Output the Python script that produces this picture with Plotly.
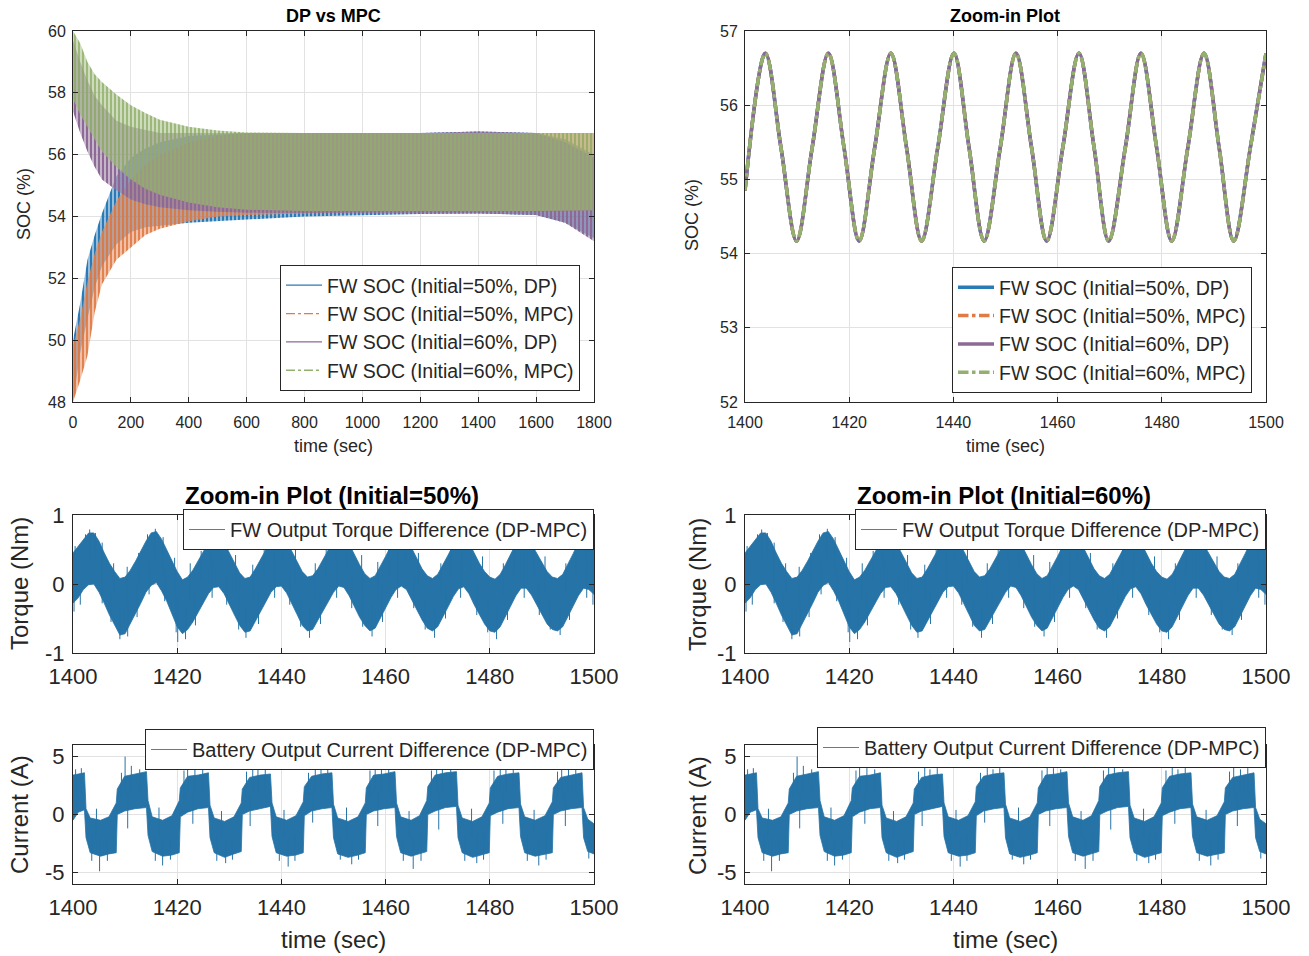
import numpy as np
import plotly.graph_objects as go

# ---------------- DATA ----------------
# Top-left: envelopes (upper/lower) of the dense SOC oscillation, 0-1800 s
env_t = [0, 25, 50, 75, 100, 150, 200, 250, 300, 400, 500, 600, 800, 1000, 1200, 1400, 1600, 1700, 1800]
soc50_dp_up = [50.0, 51.2, 52.6, 53.4, 54.1, 55.3, 55.9, 56.2, 56.4, 56.6, 56.65, 56.7, 56.7, 56.7, 56.7, 56.75, 56.7, 56.5, 56.0]
soc50_dp_lo = [48.0, 49.6, 50.7, 51.7, 52.4, 53.1, 53.5, 53.65, 53.7, 53.8, 53.85, 53.9, 54.0, 54.05, 54.08, 54.1, 54.05, 53.8, 53.3]
soc50_mpc_up = [49.8, 50.7, 51.9, 52.8, 53.5, 54.5, 55.2, 55.7, 56.0, 56.4, 56.6, 56.7, 56.7, 56.7, 56.7, 56.7, 56.7, 56.7, 56.7]
soc50_mpc_lo = [48.0, 48.7, 49.5, 50.9, 51.8, 52.6, 53.0, 53.4, 53.6, 53.85, 54.0, 54.05, 54.1, 54.15, 54.15, 54.15, 54.15, 54.15, 54.2]
soc60_dp_up = [59.7, 59.0, 58.4, 57.9, 57.6, 57.1, 56.9, 56.8, 56.7, 56.7, 56.7, 56.7, 56.7, 56.7, 56.7, 56.75, 56.7, 56.4, 55.9]
soc60_dp_lo = [57.4, 56.7, 56.1, 55.6, 55.2, 54.85, 54.55, 54.4, 54.3, 54.2, 54.15, 54.12, 54.1, 54.1, 54.1, 54.1, 54.05, 53.8, 53.2]
soc60_mpc_up = [60.0, 59.6, 59.0, 58.6, 58.35, 57.95, 57.6, 57.35, 57.13, 56.9, 56.78, 56.72, 56.7, 56.7, 56.7, 56.7, 56.7, 56.7, 56.7]
soc60_mpc_lo = [57.8, 57.3, 56.9, 56.5, 56.1, 55.6, 55.2, 54.9, 54.7, 54.45, 54.3, 54.22, 54.18, 54.18, 54.18, 54.18, 54.18, 54.18, 54.2]

# Top-right: zoomed SOC (all four series coincide in the reference)
soc_zoom_t = [1400.0, 1403.9, 1406.9, 1409.9, 1412.9, 1416.0, 1419.0, 1421.9, 1424.9, 1428.0, 1431.0,
              1433.9, 1437.0, 1440.1, 1443.0, 1445.9, 1449.0, 1452.0, 1455.0, 1457.9, 1461.0, 1464.1,
              1467.0, 1469.8, 1473.0, 1476.0, 1479.0, 1481.9, 1485.0, 1488.1, 1491.0, 1493.8, 1497.0, 1500.0]
soc_zoom_v = [54.85, 56.7, 55.43, 54.17, 55.43, 56.7, 55.43, 54.17, 55.43, 56.7, 55.43,
              54.17, 55.43, 56.7, 55.43, 54.17, 55.43, 56.7, 55.43, 54.17, 55.43, 56.7,
              55.43, 54.17, 55.43, 56.7, 55.43, 54.17, 55.43, 56.7, 55.43, 54.17, 55.43, 56.7]

# Middle: torque difference band, upper/lower envelope every second (1400..1500)
tq_t = list(range(1400, 1501))
tq_up = [0.45, 0.55, 0.65, 0.74, 0.74, 0.62, 0.45, 0.3, 0.18, 0.08,
         0.1, 0.2, 0.33, 0.48, 0.62, 0.74, 0.76, 0.65, 0.5, 0.33,
         0.18, 0.06, 0.1, 0.2, 0.34, 0.48, 0.6, 0.7, 0.7, 0.6,
         0.45, 0.3, 0.16, 0.08, 0.1, 0.22, 0.35, 0.5, 0.63, 0.72,
         0.72, 0.62, 0.48, 0.32, 0.18, 0.1, 0.12, 0.22, 0.36, 0.5,
         0.63, 0.72, 0.7, 0.58, 0.42, 0.28, 0.15, 0.08, 0.12, 0.25,
         0.4, 0.55, 0.67, 0.72, 0.66, 0.52, 0.36, 0.22, 0.12, 0.08,
         0.14, 0.27, 0.42, 0.57, 0.68, 0.7, 0.6, 0.45, 0.3, 0.18,
         0.1, 0.07, 0.14, 0.28, 0.43, 0.58, 0.68, 0.68, 0.58, 0.44,
         0.3, 0.18, 0.1, 0.08, 0.14, 0.28, 0.44, 0.6, 0.7, 0.68, 0.6]
tq_lo = [-0.28, -0.2, -0.08, -0.01, 0.0, -0.12, -0.28, -0.45, -0.6, -0.74,
         -0.72, -0.58, -0.42, -0.28, -0.12, -0.02, 0.02, -0.1, -0.25, -0.42,
         -0.62, -0.72, -0.66, -0.55, -0.42, -0.28, -0.14, -0.05, -0.04, -0.14,
         -0.3, -0.45, -0.6, -0.7, -0.68, -0.55, -0.4, -0.26, -0.12, -0.04,
         -0.03, -0.13, -0.28, -0.44, -0.6, -0.68, -0.66, -0.54, -0.4, -0.26,
         -0.12, -0.03, -0.05, -0.17, -0.33, -0.48, -0.6, -0.68, -0.64, -0.5,
         -0.35, -0.2, -0.08, -0.03, -0.08, -0.22, -0.38, -0.52, -0.64, -0.68,
         -0.62, -0.48, -0.33, -0.18, -0.07, -0.04, -0.14, -0.3, -0.45, -0.58,
         -0.68, -0.7, -0.62, -0.48, -0.32, -0.17, -0.06, -0.06, -0.16, -0.3,
         -0.45, -0.58, -0.66, -0.68, -0.62, -0.48, -0.32, -0.17, -0.06, -0.08, -0.15]
# needle-like spikes sticking out of the torque band (time, tip value)
tq_spike_t = [1400.4, 1402.4, 1403.2, 1404.3, 1405.6, 1407.8, 1410.4, 1412.6, 1414.3, 1415.8,
              1417.3, 1419.5, 1422.5, 1424.6, 1426.4, 1428.4, 1431.2, 1434.5, 1436.7, 1438.6,
              1440.4, 1442.7, 1446.5, 1448.6, 1450.5, 1452.6, 1455.4, 1458.5, 1460.6, 1462.4,
              1463.7, 1466.3, 1470.6, 1472.5, 1474.6, 1476.4, 1478.6, 1482.6, 1484.6, 1486.5,
              1488.4, 1490.6, 1494.6, 1496.5, 1498.4, 1499.6,
              1400.2, 1401.4, 1405.6, 1407.3, 1409.0, 1410.5, 1412.3, 1414.6, 1417.6, 1419.8,
              1420.1, 1421.6, 1423.5, 1426.7, 1429.5, 1431.8, 1433.2, 1435.6, 1438.7, 1441.6,
              1443.7, 1445.4, 1447.5, 1450.6, 1453.5, 1455.6, 1457.4, 1459.4, 1462.3, 1465.4,
              1467.6, 1469.4, 1471.5, 1474.4, 1477.5, 1479.6, 1481.3, 1483.4, 1486.6, 1489.5,
              1491.6, 1493.5, 1495.3, 1498.6, 1499.8]
tq_spike_v = [0.55, 0.72, 0.79, 0.74, 0.6, 0.3, 0.25, 0.45, 0.72, 0.8,
              0.68, 0.38, 0.3, 0.48, 0.72, 0.75, 0.42, 0.28, 0.52, 0.74,
              0.76, 0.5, 0.3, 0.52, 0.74, 0.7, 0.42, 0.32, 0.55, 0.76,
              0.74, 0.45, 0.3, 0.55, 0.76, 0.66, 0.4, 0.3, 0.56, 0.74,
              0.62, 0.4, 0.3, 0.58, 0.76, 0.7,
              -0.4, -0.3, -0.28, -0.55, -0.8, -0.76, -0.48, -0.15, -0.25, -0.7,
              -0.84, -0.8, -0.6, -0.2, -0.3, -0.66, -0.78, -0.58, -0.2, -0.3,
              -0.62, -0.78, -0.58, -0.2, -0.35, -0.62, -0.76, -0.55, -0.2, -0.35,
              -0.66, -0.78, -0.5, -0.2, -0.45, -0.7, -0.8, -0.52, -0.2, -0.45,
              -0.66, -0.74, -0.52, -0.2, -0.3]

# Bottom: battery current difference band (upper/lower envelope)
cur_t = [1400.0, 1401.0, 1402.2, 1402.5, 1403.3, 1405.3, 1406.9, 1408.3, 1408.5, 1409.9, 1411.9, 1414.1,
         1414.4, 1415.2, 1417.2, 1419.0, 1420.4, 1420.6, 1422.0, 1424.0, 1426.0,
         1426.3, 1427.1, 1429.1, 1430.9, 1432.3, 1432.5, 1433.9, 1435.9, 1437.9,
         1438.2, 1439.0, 1441.0, 1442.8, 1444.2, 1444.4, 1445.8, 1447.8, 1449.7,
         1450.0, 1450.8, 1452.8, 1454.7, 1456.1, 1456.3, 1457.7, 1459.7, 1461.8,
         1462.1, 1462.9, 1464.9, 1466.5, 1467.9, 1468.1, 1469.5, 1471.5, 1473.6,
         1473.9, 1474.7, 1476.7, 1478.5, 1479.9, 1480.1, 1481.5, 1483.5, 1485.6,
         1485.9, 1486.7, 1488.7, 1490.6, 1492.0, 1492.2, 1493.6, 1495.6, 1497.7,
         1498.0, 1498.8, 1500.0]
cur_up = [3.4, 3.5, 3.6, 0.5, -0.3, -0.5, -0.2, 1.0, 2.2, 3.3, 3.5, 3.7,
          1.2, -0.2, -0.5, -0.1, 1.2, 2.3, 3.3, 3.4, 3.6,
          0.8, -0.3, -0.6, -0.2, 1.0, 2.2, 3.2, 3.4, 3.5,
          1.0, -0.2, -0.5, -0.1, 1.1, 2.4, 3.3, 3.5, 3.6,
          0.9, -0.3, -0.6, -0.2, 1.0, 2.3, 3.4, 3.5, 3.7,
          1.0, -0.2, -0.5, -0.1, 1.2, 2.4, 3.4, 3.6, 3.7,
          0.8, -0.3, -0.6, -0.2, 1.0, 2.3, 3.3, 3.5, 3.6,
          0.9, -0.2, -0.5, -0.1, 1.1, 2.3, 3.2, 3.4, 3.6,
          0.6, -0.4, -0.8]
cur_lo = [-0.5, 0.2, 0.4, -2.0, -3.3, -3.6, -3.4, -3.3, 0.0, 0.3, 0.5, 0.6,
          -1.8, -3.2, -3.6, -3.5, -3.3, -0.2, 0.2, 0.5, 0.6,
          -2.0, -3.3, -3.7, -3.4, -3.2, 0.0, 0.3, 0.5, 0.7,
          -1.9, -3.3, -3.6, -3.5, -3.3, -0.1, 0.3, 0.5, 0.6,
          -2.0, -3.4, -3.7, -3.5, -3.3, 0.0, 0.3, 0.5, 0.6,
          -1.9, -3.3, -3.6, -3.4, -3.2, 0.0, 0.3, 0.6, 0.7,
          -2.0, -3.3, -3.7, -3.5, -3.3, -0.1, 0.2, 0.5, 0.6,
          -1.9, -3.3, -3.6, -3.4, -3.3, 0.0, 0.3, 0.5, 0.6,
          -2.0, -3.2, -3.4]
# needle-like spikes of the current signal (time, tip value)
cur_spike_t = [1400.5, 1401.6, 1409.3, 1410.0, 1411.2, 1412.8, 1421.3, 1422.0, 1423.4, 1424.9,
               1433.3, 1434.5, 1435.5, 1436.9, 1445.2, 1446.5, 1447.6, 1448.9, 1457.0, 1458.0,
               1459.2, 1460.6, 1468.8, 1469.8, 1470.9, 1472.5, 1480.8, 1482.0, 1483.1, 1484.5,
               1493.0, 1493.8, 1495.1, 1496.5,
               1403.6, 1405.1, 1406.6, 1415.8, 1417.2, 1418.7, 1427.6, 1429.3, 1430.6, 1439.6,
               1441.3, 1442.6, 1451.3, 1453.5, 1454.8, 1463.4, 1465.3, 1466.8, 1475.2, 1477.5,
               1478.8, 1487.2, 1489.4, 1490.8, 1499.0,
               1410.5, 1423.0, 1434.0, 1446.0, 1458.5, 1470.2, 1482.5, 1494.5,
               1404.5, 1416.5, 1428.5, 1440.5, 1452.5, 1464.5, 1476.5, 1488.5]
cur_spike_v = [3.9, 4.0, 3.6, 5.0, 4.2, 3.9, 3.8, 4.5, 4.0, 3.9,
               3.7, 4.5, 3.9, 4.0, 3.6, 4.2, 3.9, 4.0, 3.8, 4.5,
               4.0, 3.9, 3.8, 5.0, 4.1, 3.9, 3.8, 4.5, 3.9, 4.0,
               3.7, 4.2, 3.9, 4.0,
               -4.0, -4.9, -4.0, -4.0, -4.4, -3.9, -4.0, -4.2, -3.9, -4.0,
               -4.5, -4.0, -3.9, -4.3, -3.9, -4.0, -4.7, -4.0, -4.0, -4.2,
               -3.9, -4.0, -4.4, -3.9, -3.8,
               -1.2, -0.8, -1.0, -0.7, -1.0, -1.3, -0.8, -1.0,
               0.5, 0.6, 0.3, 0.4, 0.6, 0.3, 0.5, 0.4]

legend_soc = ["FW SOC (Initial=50%, DP)", "FW SOC (Initial=50%, MPC)",
              "FW SOC (Initial=60%, DP)", "FW SOC (Initial=60%, MPC)"]

# ---------------- STYLE ----------------
W, H = 1309, 956
FONT = "Liberation Sans, Arial, Helvetica, sans-serif"
colors = ["#2a7ab8", "#e07b45", "#8c6a95", "#93b06e"]
dashes = ["solid", "dashdot", "solid", "dashdot"]
C_BAND = "#2573a7"


def rgba(hexc, a):
    h = hexc.lstrip("#")
    return "rgba(%d,%d,%d,%.3f)" % (int(h[0:2], 16), int(h[2:4], 16), int(h[4:6], 16), a)


XL = [73 / W, 594 / W]
XR = [745 / W, 1266 / W]
YT = [1 - 402 / H, 1 - 31 / H]
YM = [1 - 653 / H, 1 - 515 / H]
YB = [1 - 884 / H, 1 - 745 / H]

fig = go.Figure()

# Top-left bands (dense in-phase oscillation rendered as striped bands)
bands = [(soc50_dp_up, soc50_dp_lo), (soc50_mpc_up, soc50_mpc_lo),
         (soc60_dp_up, soc60_dp_lo), (soc60_mpc_up, soc60_mpc_lo)]
band_alpha = [1.0, 0.95, 1.0, 0.9]
for i, (up, lo) in enumerate(bands):
    fig.add_trace(go.Scatter(
        x=env_t + env_t[::-1], y=up + lo[::-1], xaxis="x", yaxis="y",
        mode="lines", line=dict(width=0), fill="toself",
        fillcolor="rgba(255,255,255,0)",
        fillpattern=dict(shape="|", size=4, solidity=0.75, fillmode="replace",
                         fgcolor=rgba(colors[i], band_alpha[i]), bgcolor="rgba(255,255,255,0)"),
        showlegend=False, hoverinfo="skip"))
for i in range(4):
    fig.add_trace(go.Scatter(
        x=[None], y=[None], xaxis="x", yaxis="y", mode="lines", name=legend_soc[i],
        line=dict(color=colors[i], width=1.3, dash=dashes[i]), legend="legend"))

# Top-right lines
for i in range(4):
    fig.add_trace(go.Scatter(
        x=soc_zoom_t, y=soc_zoom_v, xaxis="x2", yaxis="y2", mode="lines", name=legend_soc[i],
        line=dict(color=colors[i], width=3.5, dash=dashes[i], shape="spline", smoothing=1.0),
        legend="legend2"))


def add_band(t, up, lo, st, sv, xa, ya, name, leg):
    fig.add_trace(go.Scatter(
        x=list(t) + list(t)[::-1], y=up + lo[::-1], xaxis=xa, yaxis=ya, mode="lines",
        line=dict(width=0.8, color=C_BAND), fill="toself", fillcolor=C_BAND,
        showlegend=False, hoverinfo="skip"))
    mid = np.interp(st, t, (np.array(up) + np.array(lo)) / 2.0)
    xs, ys = [], []
    for tt, vv, mm in zip(st, sv, mid):
        xs += [tt, tt, None]
        ys += [float(mm), vv, None]
    fig.add_trace(go.Scatter(x=xs, y=ys, xaxis=xa, yaxis=ya, mode="lines",
                             line=dict(color=C_BAND, width=1), showlegend=False, hoverinfo="skip"))
    fig.add_trace(go.Scatter(x=[None], y=[None], xaxis=xa, yaxis=ya, mode="lines", name=name,
                             line=dict(color="#3d86bd", width=1.2), legend=leg))


tq_name = "FW Output Torque Difference (DP-MPC)"
cur_name = "Battery Output Current Difference (DP-MPC)"
add_band(tq_t, tq_up, tq_lo, tq_spike_t, tq_spike_v, "x3", "y3", tq_name, "legend3")
add_band(tq_t, tq_up, tq_lo, tq_spike_t, tq_spike_v, "x4", "y4", tq_name, "legend4")
add_band(cur_t, cur_up, cur_lo, cur_spike_t, cur_spike_v, "x5", "y5", cur_name, "legend5")
add_band(cur_t, cur_up, cur_lo, cur_spike_t, cur_spike_v, "x6", "y6", cur_name, "legend6")


def ax(domain, rng, anchor, fs, **kw):
    d = dict(domain=domain, range=rng, anchor=anchor, showline=True, linecolor="#262626",
             linewidth=1, mirror="ticks", ticks="inside", ticklen=5, tickcolor="#262626",
             showgrid=True, gridcolor="#e2e2e2", gridwidth=1, zeroline=False, automargin=False,
             tickfont=dict(family=FONT, size=fs, color="#262626"), fixedrange=True)
    d.update(kw)
    return d


lay = dict(width=W, height=H, margin=dict(l=0, r=0, t=0, b=0, autoexpand=False),
           paper_bgcolor="white", plot_bgcolor="white", font=dict(family=FONT, color="#262626"))
lay["xaxis"] = ax(XL, [0, 1800], "y", 16, dtick=200, ticklabelstandoff=6)
lay["yaxis"] = ax(YT, [48, 60], "x", 16, dtick=2, ticklabelstandoff=3)
lay["xaxis2"] = ax(XR, [1400, 1500], "y2", 16, dtick=20, ticklabelstandoff=6)
lay["yaxis2"] = ax(YT, [52, 57], "x2", 16, dtick=1, ticklabelstandoff=3)
for k, (xd, yd) in zip([3, 4, 5, 6], [(XL, YM), (XR, YM), (XL, YB), (XR, YB)]):
    lay["xaxis%d" % k] = ax(xd, [1400, 1500], "y%d" % k, 22, dtick=20, ticklabelstandoff=4)
    if k in (3, 4):
        lay["yaxis%d" % k] = ax(yd, [-1, 1], "x%d" % k, 22, tickvals=[-1, 0, 1],
                                ticktext=["-1", "0", "1"], ticklabelstandoff=3)
    else:
        lay["yaxis%d" % k] = ax(yd, [-6, 6], "x%d" % k, 22, tickvals=[-5, 0, 5],
                                ticktext=["-5", "0", "5"], ticklabelstandoff=3)


def leg(x, y, yanchor, fs):
    return dict(x=x, y=y, xanchor="right", yanchor=yanchor, xref="paper", yref="paper",
                bgcolor="white", bordercolor="#262626", borderwidth=1,
                font=dict(family=FONT, size=fs, color="#262626"), itemwidth=36,
                tracegroupgap=0)


lay["legend"] = leg(580 / W, 1 - 391 / H, "bottom", 19.5)
lay["legend2"] = leg(1252 / W, 1 - 393 / H, "bottom", 19.5)
lay["legend3"] = leg(594 / W, 1 - 509 / H, "top", 20)
lay["legend4"] = leg(1266 / W, 1 - 509 / H, "top", 20)
lay["legend5"] = leg(594 / W, 1 - 729 / H, "top", 20)
lay["legend6"] = leg(1266 / W, 1 - 727 / H, "top", 20)

ann = []


def text(x, y, s, size, bold=False, angle=0, color="#262626"):
    ann.append(dict(x=x / W, y=1 - y / H, xref="paper", yref="paper", text="<b>%s</b>" % s if bold else s,
                    showarrow=False, textangle=angle, xanchor="center", yanchor="middle",
                    font=dict(family=FONT, size=size, color=color)))


text(333, 16, "DP vs MPC", 18, bold=True, color="black")
text(1005, 16, "Zoom-in Plot", 18, bold=True, color="black")
text(332, 495, "Zoom-in Plot (Initial=50%)", 24, bold=True, color="black")
text(1004, 495, "Zoom-in Plot (Initial=60%)", 24, bold=True, color="black")
text(333, 446, "time (sec)", 18)
text(1005, 446, "time (sec)", 18)
text(24, 204, "SOC (%)", 18, angle=-90)
text(692, 215, "SOC (%)", 18, angle=-90)
text(19, 584, "Torque (Nm)", 24, angle=-90)
text(697, 584, "Torque (Nm)", 24, angle=-90)
text(19, 815, "Current (A)", 24, angle=-90)
text(697, 815, "Current (A)", 24, angle=-90)
text(333, 939, "time (sec)", 24)
text(1005, 939, "time (sec)", 24)
lay["annotations"] = ann

fig.update_layout(**lay)
fig.write_html("out.html", config={"displayModeBar": False},
               post_script="document.body.style.margin='0';document.body.style.padding='0';"
                           "document.body.style.overflow='hidden';")
